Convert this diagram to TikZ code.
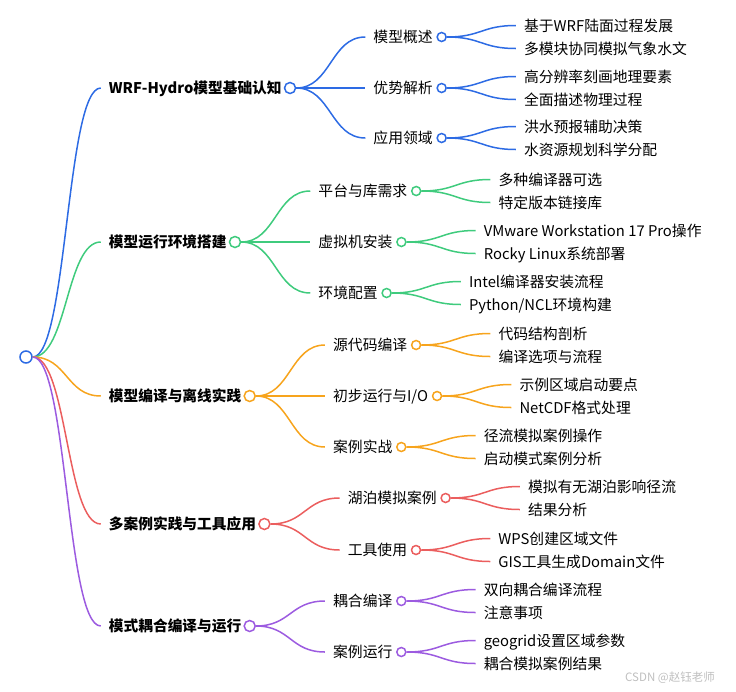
\documentclass[tikz,border=0pt]{standalone}
\usepackage{fontspec}
\setmainfont{Noto Sans CJK SC}
\usetikzlibrary{calc}
\definecolor{cA}{HTML}{2D6BE4}
\definecolor{cB}{HTML}{3FCB7D}
\definecolor{cC}{HTML}{F7A41D}
\definecolor{cD}{HTML}{EB5E5E}
\definecolor{cE}{HTML}{9C5BE0}
\tikzset{
  lab/.style={anchor=west, inner sep=0pt, text height=11pt, text depth=0pt,
    font=\fontsize{14.8}{16}\selectfont},
  hlab/.style={lab, font=\fontsize{14.7}{16}\selectfont\bfseries},
  link/.style={line width=1.5pt},
  knob/.style={circle, fill=white, line width=1.5pt, inner sep=0pt, anchor=west},
}
\newcommand\dd{69pt}
% #1 style, #2 name, #3 parent knob, #4 y, #5 colour, #6 text
\newcommand\kid[6]{%
  \path (#3.east) ++(\dd,0pt) coordinate (#2-s);
  \coordinate (#2-y) at (0,#4);
  \coordinate (#2-in) at (#2-s |- #2-y);
  \node[#1] (#2) at ([xshift=8pt]#2-in) {#6};
  \draw[link,draw=#5] (#3.east) .. controls +(34.5pt,0pt) and +(-34.5pt,0pt) .. (#2-in);
}
% #1 name, #2 colour, #3 size, #4 gap
\newcommand\knobat[4]{\node[knob, draw=#2, minimum size=#3] (#1-c) at ([xshift=#4]#1.east) {};}
\newcommand\bigknob[2]{\knobat{#1}{#2}{11pt}{2pt}}
\newcommand\smallknob[2]{\knobat{#1}{#2}{9pt}{3.5pt}}
\begin{document}
\begin{tikzpicture}[x=1pt,y=-1pt]
\useasboundingbox (0,0) rectangle (736,691);
\node[knob, anchor=center, draw=cA, minimum size=12pt] (root) at (26,357) {};
% ---- level 1 (links from the root)
\renewcommand\dd{68pt}
\kid{hlab}{A}{root}{88}{cA}{WRF-Hydro模型基础认知}\bigknob{A}{cA}
\kid{hlab}{B}{root}{242}{cB}{模型运行环境搭建}\bigknob{B}{cB}
\kid{hlab}{C}{root}{396}{cC}{模型编译与离线实践}\bigknob{C}{cC}
\kid{hlab}{D}{root}{524}{cD}{多案例实践与工具应用}\bigknob{D}{cD}
\kid{hlab}{E}{root}{626}{cE}{模式耦合编译与运行}\bigknob{E}{cE}
\renewcommand\dd{69pt}
% ---- A
\kid{lab}{a1}{A-c}{37}{cA}{模型概述}\smallknob{a1}{cA}
\kid{lab}{a11}{a1-c}{25.5}{cA}{基于WRF陆面过程发展}
\kid{lab}{a12}{a1-c}{48.5}{cA}{多模块协同模拟气象水文}
\kid{lab}{a2}{A-c}{88}{cA}{优势解析}\smallknob{a2}{cA}
\kid{lab}{a21}{a2-c}{76.5}{cA}{高分辨率刻画地理要素}
\kid{lab}{a22}{a2-c}{99.5}{cA}{全面描述物理过程}
\kid{lab}{a3}{A-c}{138}{cA}{应用领域}\smallknob{a3}{cA}
\kid{lab}{a31}{a3-c}{126.5}{cA}{洪水预报辅助决策}
\kid{lab}{a32}{a3-c}{149.5}{cA}{水资源规划科学分配}
% ---- B
\kid{lab}{b1}{B-c}{191}{cB}{平台与库需求}\smallknob{b1}{cB}
\kid{lab}{b11}{b1-c}{179.5}{cB}{多种编译器可选}
\kid{lab}{b12}{b1-c}{202.5}{cB}{特定版本链接库}
\kid{lab}{b2}{B-c}{242}{cB}{虚拟机安装}\smallknob{b2}{cB}
\kid{lab}{b21}{b2-c}{230.5}{cB}{VMware Workstation 17 Pro操作}
\kid{lab}{b22}{b2-c}{253.5}{cB}{Rocky Linux系统部署}
\kid{lab}{b3}{B-c}{293}{cB}{环境配置}\smallknob{b3}{cB}
\kid{lab}{b31}{b3-c}{281.5}{cB}{Intel编译器安装流程}
\kid{lab}{b32}{b3-c}{304.5}{cB}{Python/NCL环境构建}
% ---- C
\kid{lab}{c1}{C-c}{345}{cC}{源代码编译}\smallknob{c1}{cC}
\kid{lab}{c11}{c1-c}{333.5}{cC}{代码结构剖析}
\kid{lab}{c12}{c1-c}{356.5}{cC}{编译选项与流程}
\kid{lab}{c2}{C-c}{396}{cC}{初步运行与I/O}\smallknob{c2}{cC}
\kid{lab}{c21}{c2-c}{384.5}{cC}{示例区域启动要点}
\kid{lab}{c22}{c2-c}{407.5}{cC}{NetCDF格式处理}
\kid{lab}{c3}{C-c}{447}{cC}{案例实战}\smallknob{c3}{cC}
\kid{lab}{c31}{c3-c}{435.5}{cC}{径流模拟案例操作}
\kid{lab}{c32}{c3-c}{458.5}{cC}{启动模式案例分析}
% ---- D
\kid{lab}{d1}{D-c}{498}{cD}{湖泊模拟案例}\smallknob{d1}{cD}
\kid{lab}{d11}{d1-c}{486.5}{cD}{模拟有无湖泊影响径流}
\kid{lab}{d12}{d1-c}{509.5}{cD}{结果分析}
\kid{lab}{d2}{D-c}{550}{cD}{工具使用}\smallknob{d2}{cD}
\kid{lab}{d21}{d2-c}{538.5}{cD}{WPS创建区域文件}
\kid{lab}{d22}{d2-c}{561.5}{cD}{GIS工具生成Domain文件}
% ---- E
\kid{lab}{e1}{E-c}{601}{cE}{耦合编译}\smallknob{e1}{cE}
\kid{lab}{e11}{e1-c}{589.5}{cE}{双向耦合编译流程}
\kid{lab}{e12}{e1-c}{612.5}{cE}{注意事项}
\kid{lab}{e2}{E-c}{652}{cE}{案例运行}\smallknob{e2}{cE}
\kid{lab}{e21}{e2-c}{640.5}{cE}{geogrid设置区域参数}
\kid{lab}{e22}{e2-c}{663.5}{cE}{耦合模拟案例结果}
% ---- watermark
\node[anchor=west, inner sep=0pt, text=gray!50, font=\fontsize{11.5}{13}\selectfont] (wm) at (625,678) {CSDN @赵钰老师};
\end{tikzpicture}
\end{document}
